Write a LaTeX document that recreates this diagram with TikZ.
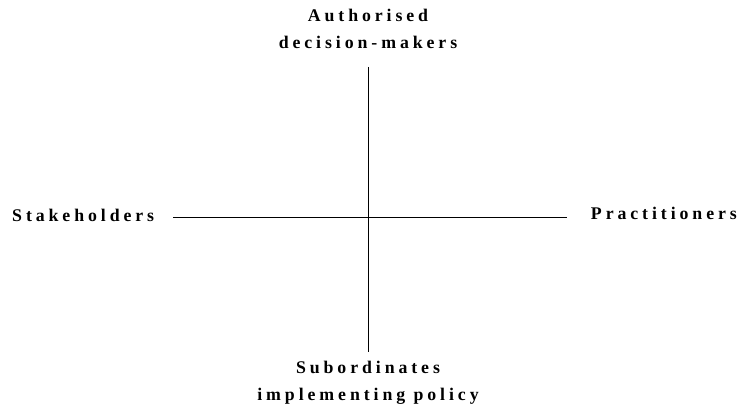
\documentclass[tikz,border=0pt]{standalone}
\usepackage{fontspec}
\setmainfont{Liberation Serif}[LetterSpace=22]
\begin{document}
\begin{tikzpicture}[x=1pt,y=-1pt,
  lbl/.style={font=\fontsize{17.8}{27}\selectfont\bfseries, align=center, inner sep=0pt},
  axis/.style={draw=black, line width=0.9pt}]
\useasboundingbox (0,0) rectangle (738,409);
\node[lbl] (top) at (368,29) {Authorised\\decision-makers};
\node[lbl] (bot) at (368,383) {Subordinates\\implementing policy};
\node[lbl, anchor=west] (left) at (12,215) {Stakeholders};
\node[lbl, anchor=east] (right) at (737,213) {Practitioners};
\coordinate (vt) at (368,67);
\coordinate (vb) at (368,352);
\coordinate (hl) at (173,217);
\coordinate (hr) at (567,217);
\draw[axis] (vt) -- (vb);
\draw[axis] (hl) -- (hr);
\end{tikzpicture}
\end{document}
